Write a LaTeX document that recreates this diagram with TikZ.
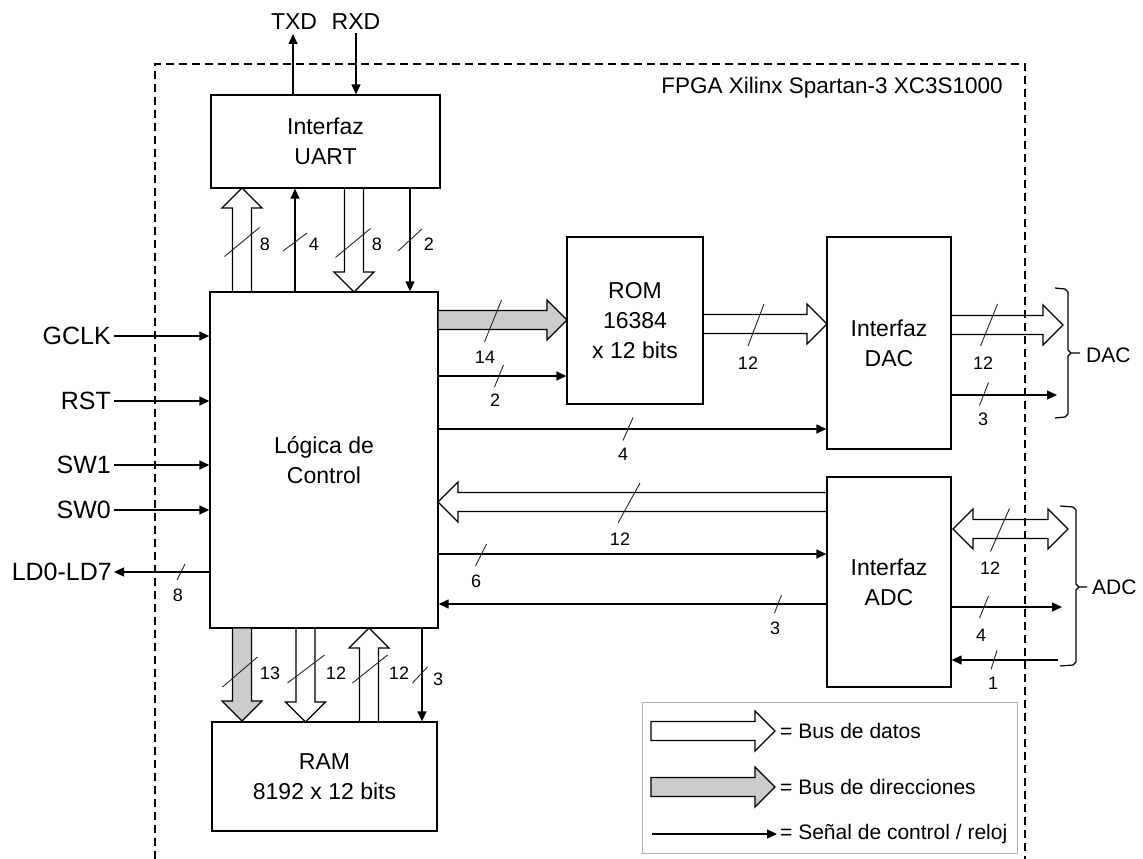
\documentclass[tikz,border=0pt]{standalone}
\usepackage{fontspec}
\setmainfont{Liberation Sans}
\usetikzlibrary{arrows.meta}
\newcommand\busR[4]{\filldraw[bus,fill=#4] (#1,{#3-9.5}) -- ({#2-20},{#3-9.5}) -- ({#2-20},{#3-20}) -- (#2,#3) -- ({#2-20},{#3+20}) -- ({#2-20},{#3+9.5}) -- (#1,{#3+9.5}) -- cycle;}
\newcommand\busL[4]{\filldraw[bus,fill=#4] (#1,{#3-9.5}) -- ({#2+20},{#3-9.5}) -- ({#2+20},{#3-20}) -- (#2,#3) -- ({#2+20},{#3+20}) -- ({#2+20},{#3+9.5}) -- (#1,{#3+9.5}) -- cycle;}
\newcommand\busD[4]{\filldraw[bus,fill=#4] ({#3-9.5},#1) -- ({#3-9.5},{#2-20}) -- ({#3-20},{#2-20}) -- (#3,#2) -- ({#3+20},{#2-20}) -- ({#3+9.5},{#2-20}) -- ({#3+9.5},#1) -- cycle;}
\newcommand\busU[4]{\filldraw[bus,fill=#4] ({#3-9.5},#1) -- ({#3-9.5},{#2+20}) -- ({#3-20},{#2+20}) -- (#3,#2) -- ({#3+20},{#2+20}) -- ({#3+9.5},{#2+20}) -- ({#3+9.5},#1) -- cycle;}
\newcommand\busLR[3]{\draw[bus] (#1,#3) -- ({#1+20},{#3-20}) -- ({#1+20},{#3-9.5}) -- ({#2-20},{#3-9.5}) -- ({#2-20},{#3-20}) -- (#2,#3) -- ({#2-20},{#3+20}) -- ({#2-20},{#3+9.5}) -- ({#1+20},{#3+9.5}) -- ({#1+20},{#3+20}) -- cycle;}
\newcommand\slashmark[4]{\draw[slash] ({#1-#3},{#2+#4}) -- ({#1+#3},{#2-#4});}
\begin{document}
\begin{tikzpicture}[x=1pt,y=-1pt,
 box/.style={draw, line width=1.3pt, inner sep=0pt, align=center, font=\fontsize{23}{30}\selectfont},
 ctl/.style={line width=1.3pt, -{Triangle[length=10pt,width=9pt]}},
 bus/.style={line width=1.3pt},
 slash/.style={line width=0.9pt, black!85},
 num/.style={font=\fontsize{18}{18}\selectfont, inner sep=0pt},
 sig/.style={font=\fontsize{25}{25}\selectfont, inner sep=0pt, anchor=east},
 ext/.style={font=\fontsize{23}{23}\selectfont, inner sep=0pt},
 side/.style={font=\fontsize{21}{21}\selectfont, inner sep=0pt, anchor=west},
 leg/.style={font=\fontsize{21}{21}\selectfont, inner sep=0pt, anchor=west},
 brk/.style={line width=1.2pt},
]
\useasboundingbox (0,0) rectangle (1143,859);

% blocks
\node[box, minimum width=229pt, minimum height=93pt] (uart) at (325.5,141.5) {Interfaz\\UART};
\node[box, minimum width=228pt, minimum height=336pt] (logic) at (324,460) {Lógica de\\Control};
\node[box, minimum width=136pt, minimum height=167pt] (rom) at (635,320.5) {ROM\\16384\\x 12 bits};
\node[box, minimum width=124pt, minimum height=212pt] (dac) at (889,343) {Interfaz\\DAC};
\node[box, minimum width=124pt, minimum height=210pt] (adc) at (889,582) {Interfaz\\ADC};
\node[box, minimum width=225pt, minimum height=109pt] (ram) at (324.5,776.5) {RAM\\8192 x 12 bits};

% TXD / RXD
\node[ext] (txd) at (294,22) {TXD};
\node[ext] (rxd) at (356,22) {RXD};
\coordinate (txdend) at (293,34);
\coordinate (rxdstart) at (356,33);
\draw[ctl] (uart.north -| txdend) -- (txdend);
\draw[ctl] (rxdstart) -- (uart.north -| rxdstart);

% UART <-> logic
\busU{292}{188}{242}{none}
\draw[ctl] (logic.north -| 295,0) -- (uart.south -| 295,0);
\busD{188}{292}{354}{none}
\draw[ctl] (uart.south -| 410,0) -- (logic.north -| 410,0);
\slashmark{242}{242}{17.5}{14.5}
\slashmark{295}{242}{12}{9}
\slashmark{353}{243}{17.5}{14.5}
\slashmark{410}{240}{12}{11}
\node[num] (n1) at (265,244) {8};
\node[num] (n2) at (314,244) {4};
\node[num] (n3) at (377,244) {8};
\node[num] (n4) at (429,244) {2};

% logic -> ROM / DAC
\busR{438}{567}{320}{gray!40}
\slashmark{493}{321}{8.5}{21}
\node[num] (n5) at (485,357) {14};
\draw[ctl] (logic.east |- 0,376) -- (rom.west |- 0,376);
\slashmark{499}{376}{4.5}{11}
\node[num] (n6) at (495,400) {2};
\draw[ctl] (logic.east |- 0,429) -- (dac.west |- 0,429);
\slashmark{628}{429}{5}{11.5}
\node[num] (n7) at (623,454) {4};
\busR{703}{827}{324}{none}
\slashmark{756}{325}{8}{21}
\node[num] (n8) at (748,363) {12};

% DAC outputs
\busR{951}{1063}{325}{none}
\slashmark{989}{325}{8.5}{21}
\node[num] (n9) at (983,363) {12};
\coordinate (dac3) at (1057,395);
\draw[ctl] (dac.east |- dac3) -- (dac3);
\slashmark{984}{394}{4.5}{11.5}
\node[num] (n10) at (983,419) {3};
\draw[brk] (1055,288) -- (1065,289) -- (1068,292) -- (1068,350) -- (1071,353) -- (1080,353);
\draw[brk] (1071,353) -- (1068,356) -- (1068,414) -- (1065,417) -- (1055,418);
\node[side] (daclbl) at (1086,355) {DAC};

% ADC <-> logic
\busL{827}{438}{502}{none}
\slashmark{629}{503}{11}{20}
\node[num] (n11) at (620,539) {12};
\draw[ctl] (logic.east |- 0,554) -- (adc.west |- 0,554);
\slashmark{481}{555}{5.5}{11}
\node[num] (n12) at (476,581) {6};
\draw[ctl] (adc.west |- 0,604) -- (logic.east |- 0,604);
\slashmark{778}{604}{3.5}{9}
\node[num] (n13) at (775,628) {3};

% ADC outside
\busLR{953}{1068}{529}
\slashmark{1000}{530}{9.5}{21.5}
\node[num] (n14) at (990,568) {12};
\coordinate (adc4) at (1062,607);
\draw[ctl] (adc.east |- adc4) -- (adc4);
\slashmark{984}{607}{4.5}{11}
\node[num] (n15) at (981,635) {4};
\coordinate (adc1) at (1058,660);
\draw[ctl] (adc1) -- (adc.east |- adc1);
\slashmark{994}{660}{3}{9.5}
\node[num] (n16) at (993,683) {1};
\draw[brk] (1060,506) -- (1073,507) -- (1076,510) -- (1076,584) -- (1079,587) -- (1087,587);
\draw[brk] (1079,587) -- (1076,590) -- (1076,662) -- (1073,665) -- (1060,666);
\node[side] (adclbl) at (1092,587) {ADC};

% left signals
\node[sig] (gclk) at (111,336) {GCLK};
\node[sig] (rst) at (111,401) {RST};
\node[sig] (sw1) at (111,465) {SW1};
\node[sig] (sw0) at (111,510) {SW0};
\node[sig] (ld) at (112,572) {LD0-LD7};
\draw[ctl] ([xshift=3pt]gclk.east) -- (logic.west |- gclk.east);
\draw[ctl] ([xshift=3pt]rst.east) -- (logic.west |- rst.east);
\draw[ctl] ([xshift=3pt]sw1.east) -- (logic.west |- sw1.east);
\draw[ctl] ([xshift=3pt]sw0.east) -- (logic.west |- sw0.east);
\draw[ctl] (logic.west |- ld.east) -- ([xshift=2pt]ld.east);
\slashmark{181}{572}{4}{8}
\node[num] (n17) at (178,595) {8};

% logic <-> RAM
\busD{628}{721}{242}{gray!40}
\slashmark{240}{672}{17.5}{15}
\node[num] (n18) at (270,673) {13};
\busD{628}{722}{305.5}{none}
\slashmark{306}{669}{18.5}{14}
\node[num] (n19) at (336,673) {12};
\busU{722}{628}{369}{none}
\slashmark{370}{669}{17.5}{14}
\node[num] (n20) at (399,673) {12};
\draw[ctl] (logic.south -| 422,0) -- (ram.north -| 422,0);
\slashmark{420}{675}{7.5}{8}
\node[num] (n21) at (438,679) {3};

% legend
\node[draw=gray!60, line width=1pt, minimum width=375pt, minimum height=151pt, inner sep=0pt] (legend) at (829.5,777.5) {};
\busR{651}{775}{731}{none}
\busR{651}{775}{787}{gray!40}
\coordinate (lgs) at (652,834);
\coordinate (lge) at (777,834);
\draw[ctl] (lgs) -- (lge);
\node[leg] (l1) at (780,731) {= Bus de datos};
\node[leg] (l2) at (780,787) {= Bus de direcciones};
\node[leg] (l3) at (780,834) {= Señal de control / reloj};

% FPGA boundary
\node[anchor=east, font=\fontsize{22.5}{22.5}\selectfont, inner sep=0pt] (fpga) at (1003,88) {FPGA Xilinx Spartan-3 XC3S1000};
\draw[line width=1.2pt, dash pattern=on 8pt off 5pt] (155,859) -- (155,64) -- (1025,64) -- (1025,859);
\end{tikzpicture}
\end{document}
